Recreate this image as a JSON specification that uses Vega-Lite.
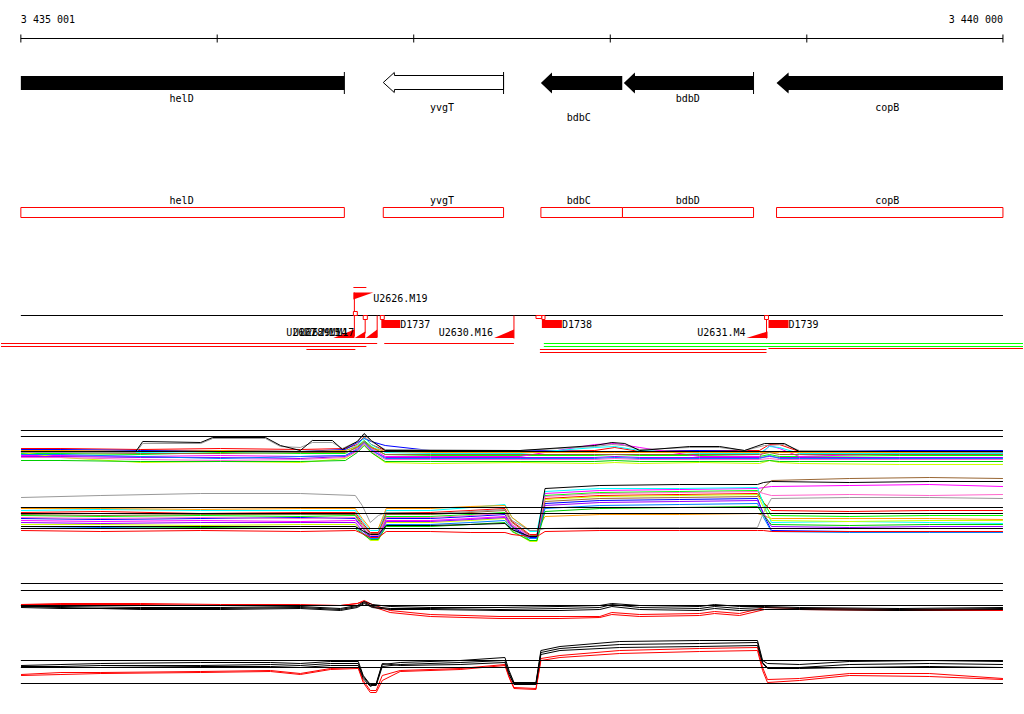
{
"$schema":"https://vega.github.io/schema/vega-lite/v6.json",
"width":1024,"height":714,"padding":0,
"autosize":{"type":"fit","contains":"padding"},
"background":"white",
"config":{"view":{"stroke":null},"text":{"font":"DejaVu Sans Mono","fontSize":10,"color":"#000000","baseline":"middle"}},
"datasets":{
"blackArrows":[
{"id":"helD","x":3435001,"y":75.5,"y2":89.5},{"id":"helD","x":3436647,"y":75.5,"y2":89.5},
{"id":"bdbC","x":3437647,"y":82.5,"y2":82.5},{"id":"bdbC","x":3437703,"y":72,"y2":93},{"id":"bdbC","x":3437704,"y":75.5,"y2":89.5},{"id":"bdbC","x":3438061,"y":75.5,"y2":89.5},
{"id":"bdbD","x":3438069,"y":82.5,"y2":82.5},{"id":"bdbD","x":3438125,"y":72,"y2":93},{"id":"bdbD","x":3438126,"y":75.5,"y2":89.5},{"id":"bdbD","x":3438729,"y":75.5,"y2":89.5},
{"id":"copB","x":3438846,"y":82.5,"y2":82.5},{"id":"copB","x":3438907,"y":72,"y2":93},{"id":"copB","x":3438908,"y":75.5,"y2":89.5},{"id":"copB","x":3439998,"y":75.5,"y2":89.5}
],
"whiteArrows":[
{"id":"yvgT","x":3436845,"y":82,"y2":82},{"id":"yvgT","x":3436901,"y":72,"y2":92},{"id":"yvgT","x":3436902,"y":75,"y2":89},{"id":"yvgT","x":3437457,"y":75,"y2":89}
],
"blackV":[
{"x":3435001,"y":34,"y2":42},{"x":3436000,"y":34,"y2":42},{"x":3437000,"y":34,"y2":42},{"x":3438000,"y":34,"y2":42},{"x":3439000,"y":34,"y2":42},{"x":3439998,"y":34,"y2":42},
{"x":3436647,"y":71.5,"y2":93.5},{"x":3437457,"y":71.5,"y2":93.5},{"x":3438729,"y":71.5,"y2":93.5}
],
"blackH":[
{"x":3435001,"x2":3439998,"y":38},{"x":3435001,"x2":3439998,"y":315}
],
"refs":[
{"x":3435001,"x2":3439998,"y":430},{"x":3435001,"x2":3439998,"y":436},{"x":3435001,"x2":3439998,"y":451},
{"x":3435001,"x2":3439998,"y":507},{"x":3435001,"x2":3439998,"y":513},{"x":3435001,"x2":3439998,"y":528},
{"x":3435001,"x2":3439998,"y":583},{"x":3435001,"x2":3439998,"y":590},{"x":3435001,"x2":3439998,"y":605},
{"x":3435001,"x2":3439998,"y":660},{"x":3435001,"x2":3439998,"y":667},{"x":3435001,"x2":3439998,"y":683}
],
"geneBoxes":[
{"x":3435001,"x2":3436647,"y":207,"y2":217},{"x":3436845,"x2":3437457,"y":207,"y2":217},{"x":3437647,"x2":3438062,"y":207,"y2":217},{"x":3438062,"x2":3438729,"y":207,"y2":217},{"x":3438846,"x2":3439998,"y":207,"y2":217}
],
"smallSquares":[
{"x":3436693,"x2":3436713,"y":311,"y2":315},{"x":3436743,"x2":3436764,"y":315,"y2":319},{"x":3436830,"x2":3436850,"y":315,"y2":319},{"x":3437622,"x2":3437652,"y":315,"y2":318},{"x":3437652,"x2":3437668,"y":315,"y2":319},{"x":3438785,"x2":3438805,"y":315,"y2":319}
],
"redBoxes":[
{"x":3436835,"x2":3436931,"y":319.5,"y2":327.5},{"x":3437652,"x2":3437754,"y":319.5,"y2":327.5},{"x":3438805,"x2":3438907,"y":319.5,"y2":327.5}
],
"redShapes":[
{"id":"flag","x":3436693,"y":292,"y2":299},{"id":"flag","x":3436794,"y":292,"y2":292},
{"id":"r1","x":3436591,"y":337.5,"y2":337.5},{"id":"r1","x":3436698,"y":329,"y2":337.5},
{"id":"r2","x":3436700,"y":337.5,"y2":337.5},{"id":"r2","x":3436753,"y":331,"y2":337.5},
{"id":"r3","x":3436756,"y":337.5,"y2":337.5},{"id":"r3","x":3436814,"y":329,"y2":337.5},
{"id":"r4","x":3437409,"y":337.5,"y2":337.5},{"id":"r4","x":3437510,"y":329,"y2":337.5},
{"id":"r5","x":3438693,"y":337.5,"y2":337.5},{"id":"r5","x":3438800,"y":331,"y2":337.5}
],
"redV":[
{"x":3436698,"y":292,"y2":336},{"x":3436753,"y":315,"y2":333},{"x":3436814,"y":315,"y2":337},{"x":3437510,"y":315,"y2":338},{"x":3438795,"y":315,"y2":338}
],
"redH":[
{"x":3436693,"x2":3436759,"y":287},{"x":3434900,"x2":3436814,"y":343},{"x":3434900,"x2":3436759,"y":346},{"x":3436454,"x2":3436703,"y":349},
{"x":3436850,"x2":3437510,"y":343},{"x":3437642,"x2":3438795,"y":349},{"x":3437642,"x2":3438795,"y":352},{"x":3438805,"x2":3440100,"y":348}
],
"greenH":[
{"x":3437662,"x2":3440100,"y":343},{"x":3437662,"x2":3440100,"y":346}
],
"labelsLeft":[
{"x":3435001,"y":19,"t":"3 435 001"},{"x":3436794,"y":298,"t":"U2626.M19"},{"x":3436931,"y":324,"t":"D1737"},{"x":3437754,"y":324,"t":"D1738"},{"x":3438907,"y":324,"t":"D1739"}
],
"labelsCenter":[
{"x":3435819,"y":98,"t":"helD"},{"x":3437144,"y":107,"t":"yvgT"},{"x":3437840,"y":117,"t":"bdbC"},{"x":3438394,"y":98,"t":"bdbD"},{"x":3439409,"y":107,"t":"copB"},
{"x":3435819,"y":200.5,"t":"helD"},{"x":3437144,"y":200.5,"t":"yvgT"},{"x":3437840,"y":200.5,"t":"bdbC"},{"x":3438394,"y":200.5,"t":"bdbD"},{"x":3439409,"y":200.5,"t":"copB"}
],
"labelsRight":[
{"x":3439998,"y":19,"t":"3 440 000"},{"x":3437403,"y":332.5,"t":"U2630.M16"},{"x":3438688,"y":332,"t":"U2631.M4"},
{"x":3436627,"y":332,"t":"U2627.M15"},{"x":3436662,"y":332,"t":"U2628.M14"},{"x":3436698,"y":332,"t":"U2629.M17"}
],
"lines":[
{"s":"S01","p":"A","x":3435002,"y":448},{"s":"S01","p":"A","x":3435205,"y":448},{"s":"S01","p":"A","x":3435611,"y":449},{"s":"S01","p":"A","x":3436017,"y":448},{"s":"S01","p":"A","x":3436423,"y":449},{"s":"S01","p":"A","x":3436652,"y":448},{"s":"S01","p":"A","x":3436713,"y":444},{"s":"S01","p":"A","x":3436748,"y":436},{"s":"S01","p":"A","x":3436784,"y":444},{"s":"S01","p":"A","x":3436855,"y":450},{"s":"S01","p":"A","x":3437084,"y":451},{"s":"S01","p":"A","x":3437541,"y":451},{"s":"S01","p":"A","x":3437921,"y":450},{"s":"S01","p":"A","x":3438023,"y":447},{"s":"S01","p":"A","x":3438150,"y":451},{"s":"S01","p":"A","x":3438455,"y":450},{"s":"S01","p":"A","x":3438759,"y":450},{"s":"S01","p":"A","x":3438810,"y":444},{"s":"S01","p":"A","x":3438861,"y":444},{"s":"S01","p":"A","x":3438962,"y":451},{"s":"S01","p":"A","x":3439470,"y":451},{"s":"S01","p":"A","x":3439998,"y":451},
{"s":"S02","p":"A","x":3435002,"y":449},{"s":"S02","p":"A","x":3435205,"y":449},{"s":"S02","p":"A","x":3435611,"y":450},{"s":"S02","p":"A","x":3436017,"y":450},{"s":"S02","p":"A","x":3436423,"y":451},{"s":"S02","p":"A","x":3436652,"y":449},{"s":"S02","p":"A","x":3436713,"y":442},{"s":"S02","p":"A","x":3436748,"y":438},{"s":"S02","p":"A","x":3436784,"y":441},{"s":"S02","p":"A","x":3436855,"y":445},{"s":"S02","p":"A","x":3437084,"y":450},{"s":"S02","p":"A","x":3437541,"y":450},{"s":"S02","p":"A","x":3437921,"y":451},{"s":"S02","p":"A","x":3438023,"y":451},{"s":"S02","p":"A","x":3438150,"y":451},{"s":"S02","p":"A","x":3438455,"y":450},{"s":"S02","p":"A","x":3438759,"y":451},{"s":"S02","p":"A","x":3438810,"y":451},{"s":"S02","p":"A","x":3438861,"y":451},{"s":"S02","p":"A","x":3438962,"y":451},{"s":"S02","p":"A","x":3439470,"y":450},{"s":"S02","p":"A","x":3439998,"y":450},
{"s":"S03","p":"A","x":3435002,"y":453},{"s":"S03","p":"A","x":3435205,"y":453},{"s":"S03","p":"A","x":3435611,"y":454},{"s":"S03","p":"A","x":3436017,"y":452},{"s":"S03","p":"A","x":3436423,"y":453},{"s":"S03","p":"A","x":3436652,"y":453},{"s":"S03","p":"A","x":3436713,"y":446},{"s":"S03","p":"A","x":3436748,"y":440},{"s":"S03","p":"A","x":3436784,"y":446},{"s":"S03","p":"A","x":3436855,"y":454},{"s":"S03","p":"A","x":3437084,"y":455},{"s":"S03","p":"A","x":3437541,"y":455},{"s":"S03","p":"A","x":3437921,"y":455},{"s":"S03","p":"A","x":3438023,"y":454},{"s":"S03","p":"A","x":3438150,"y":455},{"s":"S03","p":"A","x":3438455,"y":455},{"s":"S03","p":"A","x":3438759,"y":456},{"s":"S03","p":"A","x":3438810,"y":454},{"s":"S03","p":"A","x":3438861,"y":456},{"s":"S03","p":"A","x":3438962,"y":456},{"s":"S03","p":"A","x":3439470,"y":455},{"s":"S03","p":"A","x":3439998,"y":455},
{"s":"S04","p":"A","x":3435002,"y":455},{"s":"S04","p":"A","x":3435205,"y":455},{"s":"S04","p":"A","x":3435611,"y":456},{"s":"S04","p":"A","x":3436017,"y":455},{"s":"S04","p":"A","x":3436423,"y":456},{"s":"S04","p":"A","x":3436652,"y":455},{"s":"S04","p":"A","x":3436713,"y":448},{"s":"S04","p":"A","x":3436748,"y":441},{"s":"S04","p":"A","x":3436784,"y":448},{"s":"S04","p":"A","x":3436855,"y":456},{"s":"S04","p":"A","x":3437084,"y":456},{"s":"S04","p":"A","x":3437541,"y":456},{"s":"S04","p":"A","x":3437921,"y":444},{"s":"S04","p":"A","x":3438023,"y":443},{"s":"S04","p":"A","x":3438150,"y":447},{"s":"S04","p":"A","x":3438455,"y":456},{"s":"S04","p":"A","x":3438759,"y":456},{"s":"S04","p":"A","x":3438810,"y":445},{"s":"S04","p":"A","x":3438861,"y":448},{"s":"S04","p":"A","x":3438962,"y":456},{"s":"S04","p":"A","x":3439470,"y":453},{"s":"S04","p":"A","x":3439998,"y":453},
{"s":"S05","p":"A","x":3435002,"y":451},{"s":"S05","p":"A","x":3435205,"y":451},{"s":"S05","p":"A","x":3435611,"y":452},{"s":"S05","p":"A","x":3436017,"y":451},{"s":"S05","p":"A","x":3436423,"y":452},{"s":"S05","p":"A","x":3436652,"y":450},{"s":"S05","p":"A","x":3436713,"y":445},{"s":"S05","p":"A","x":3436748,"y":437},{"s":"S05","p":"A","x":3436784,"y":444},{"s":"S05","p":"A","x":3436855,"y":452},{"s":"S05","p":"A","x":3437084,"y":453},{"s":"S05","p":"A","x":3437541,"y":453},{"s":"S05","p":"A","x":3437921,"y":447},{"s":"S05","p":"A","x":3438023,"y":446},{"s":"S05","p":"A","x":3438150,"y":450},{"s":"S05","p":"A","x":3438455,"y":453},{"s":"S05","p":"A","x":3438759,"y":453},{"s":"S05","p":"A","x":3438810,"y":446},{"s":"S05","p":"A","x":3438861,"y":447},{"s":"S05","p":"A","x":3438962,"y":453},{"s":"S05","p":"A","x":3439470,"y":453},{"s":"S05","p":"A","x":3439998,"y":453},
{"s":"S06","p":"A","x":3435002,"y":450},{"s":"S06","p":"A","x":3435205,"y":450},{"s":"S06","p":"A","x":3435611,"y":451},{"s":"S06","p":"A","x":3436017,"y":450},{"s":"S06","p":"A","x":3436423,"y":451},{"s":"S06","p":"A","x":3436652,"y":450},{"s":"S06","p":"A","x":3436713,"y":446},{"s":"S06","p":"A","x":3436748,"y":442},{"s":"S06","p":"A","x":3436784,"y":447},{"s":"S06","p":"A","x":3436855,"y":451},{"s":"S06","p":"A","x":3437084,"y":452},{"s":"S06","p":"A","x":3437541,"y":452},{"s":"S06","p":"A","x":3437921,"y":452},{"s":"S06","p":"A","x":3438023,"y":452},{"s":"S06","p":"A","x":3438150,"y":452},{"s":"S06","p":"A","x":3438455,"y":452},{"s":"S06","p":"A","x":3438759,"y":452},{"s":"S06","p":"A","x":3438810,"y":452},{"s":"S06","p":"A","x":3438861,"y":452},{"s":"S06","p":"A","x":3438962,"y":452},{"s":"S06","p":"A","x":3439470,"y":452},{"s":"S06","p":"A","x":3439998,"y":452},
{"s":"S07","p":"A","x":3435002,"y":452},{"s":"S07","p":"A","x":3435205,"y":457},{"s":"S07","p":"A","x":3435611,"y":462},{"s":"S07","p":"A","x":3436017,"y":461},{"s":"S07","p":"A","x":3436423,"y":462},{"s":"S07","p":"A","x":3436652,"y":458},{"s":"S07","p":"A","x":3436713,"y":450},{"s":"S07","p":"A","x":3436748,"y":444},{"s":"S07","p":"A","x":3436784,"y":452},{"s":"S07","p":"A","x":3436855,"y":462},{"s":"S07","p":"A","x":3437084,"y":463},{"s":"S07","p":"A","x":3437541,"y":462},{"s":"S07","p":"A","x":3437921,"y":463},{"s":"S07","p":"A","x":3438023,"y":462},{"s":"S07","p":"A","x":3438150,"y":463},{"s":"S07","p":"A","x":3438455,"y":462},{"s":"S07","p":"A","x":3438759,"y":463},{"s":"S07","p":"A","x":3438810,"y":460},{"s":"S07","p":"A","x":3438861,"y":462},{"s":"S07","p":"A","x":3438962,"y":463},{"s":"S07","p":"A","x":3439470,"y":464},{"s":"S07","p":"A","x":3439998,"y":464},
{"s":"S08","p":"A","x":3435002,"y":456},{"s":"S08","p":"A","x":3435205,"y":456},{"s":"S08","p":"A","x":3435611,"y":457},{"s":"S08","p":"A","x":3436017,"y":457},{"s":"S08","p":"A","x":3436423,"y":458},{"s":"S08","p":"A","x":3436652,"y":456},{"s":"S08","p":"A","x":3436713,"y":450},{"s":"S08","p":"A","x":3436748,"y":443},{"s":"S08","p":"A","x":3436784,"y":450},{"s":"S08","p":"A","x":3436855,"y":457},{"s":"S08","p":"A","x":3437084,"y":457},{"s":"S08","p":"A","x":3437541,"y":457},{"s":"S08","p":"A","x":3437921,"y":457},{"s":"S08","p":"A","x":3438023,"y":456},{"s":"S08","p":"A","x":3438150,"y":457},{"s":"S08","p":"A","x":3438455,"y":457},{"s":"S08","p":"A","x":3438759,"y":457},{"s":"S08","p":"A","x":3438810,"y":456},{"s":"S08","p":"A","x":3438861,"y":457},{"s":"S08","p":"A","x":3438962,"y":457},{"s":"S08","p":"A","x":3439470,"y":457},{"s":"S08","p":"A","x":3439998,"y":457},
{"s":"S10","p":"A","x":3435002,"y":452},{"s":"S10","p":"A","x":3435205,"y":452},{"s":"S10","p":"A","x":3435611,"y":453},{"s":"S10","p":"A","x":3436017,"y":453},{"s":"S10","p":"A","x":3436423,"y":452},{"s":"S10","p":"A","x":3436652,"y":452},{"s":"S10","p":"A","x":3436713,"y":447},{"s":"S10","p":"A","x":3436748,"y":441},{"s":"S10","p":"A","x":3436784,"y":447},{"s":"S10","p":"A","x":3436855,"y":454},{"s":"S10","p":"A","x":3437084,"y":454},{"s":"S10","p":"A","x":3437541,"y":454},{"s":"S10","p":"A","x":3437921,"y":454},{"s":"S10","p":"A","x":3438023,"y":454},{"s":"S10","p":"A","x":3438150,"y":454},{"s":"S10","p":"A","x":3438455,"y":454},{"s":"S10","p":"A","x":3438759,"y":454},{"s":"S10","p":"A","x":3438810,"y":452},{"s":"S10","p":"A","x":3438861,"y":454},{"s":"S10","p":"A","x":3438962,"y":454},{"s":"S10","p":"A","x":3439470,"y":454},{"s":"S10","p":"A","x":3439998,"y":454},
{"s":"S11","p":"A","x":3435002,"y":454},{"s":"S11","p":"A","x":3435205,"y":454},{"s":"S11","p":"A","x":3435611,"y":456},{"s":"S11","p":"A","x":3436017,"y":458},{"s":"S11","p":"A","x":3436423,"y":456},{"s":"S11","p":"A","x":3436652,"y":455},{"s":"S11","p":"A","x":3436713,"y":449},{"s":"S11","p":"A","x":3436748,"y":442},{"s":"S11","p":"A","x":3436784,"y":449},{"s":"S11","p":"A","x":3436855,"y":458},{"s":"S11","p":"A","x":3437084,"y":458},{"s":"S11","p":"A","x":3437541,"y":458},{"s":"S11","p":"A","x":3437921,"y":458},{"s":"S11","p":"A","x":3438023,"y":457},{"s":"S11","p":"A","x":3438150,"y":458},{"s":"S11","p":"A","x":3438455,"y":458},{"s":"S11","p":"A","x":3438759,"y":458},{"s":"S11","p":"A","x":3438810,"y":455},{"s":"S11","p":"A","x":3438861,"y":458},{"s":"S11","p":"A","x":3438962,"y":458},{"s":"S11","p":"A","x":3439470,"y":458},{"s":"S11","p":"A","x":3439998,"y":458},
{"s":"S12","p":"A","x":3435002,"y":457},{"s":"S12","p":"A","x":3435205,"y":457},{"s":"S12","p":"A","x":3435611,"y":459},{"s":"S12","p":"A","x":3436017,"y":460},{"s":"S12","p":"A","x":3436423,"y":459},{"s":"S12","p":"A","x":3436652,"y":457},{"s":"S12","p":"A","x":3436713,"y":451},{"s":"S12","p":"A","x":3436748,"y":443},{"s":"S12","p":"A","x":3436784,"y":451},{"s":"S12","p":"A","x":3436855,"y":459},{"s":"S12","p":"A","x":3437084,"y":459},{"s":"S12","p":"A","x":3437541,"y":459},{"s":"S12","p":"A","x":3437921,"y":459},{"s":"S12","p":"A","x":3438023,"y":458},{"s":"S12","p":"A","x":3438150,"y":459},{"s":"S12","p":"A","x":3438455,"y":459},{"s":"S12","p":"A","x":3438759,"y":459},{"s":"S12","p":"A","x":3438810,"y":458},{"s":"S12","p":"A","x":3438861,"y":459},{"s":"S12","p":"A","x":3438962,"y":459},{"s":"S12","p":"A","x":3439470,"y":459},{"s":"S12","p":"A","x":3439998,"y":459},
{"s":"S13","p":"A","x":3435002,"y":460},{"s":"S13","p":"A","x":3435205,"y":460},{"s":"S13","p":"A","x":3435611,"y":461},{"s":"S13","p":"A","x":3436017,"y":461},{"s":"S13","p":"A","x":3436423,"y":461},{"s":"S13","p":"A","x":3436652,"y":460},{"s":"S13","p":"A","x":3436713,"y":452},{"s":"S13","p":"A","x":3436748,"y":445},{"s":"S13","p":"A","x":3436784,"y":452},{"s":"S13","p":"A","x":3436855,"y":461},{"s":"S13","p":"A","x":3437084,"y":461},{"s":"S13","p":"A","x":3437541,"y":461},{"s":"S13","p":"A","x":3437921,"y":461},{"s":"S13","p":"A","x":3438023,"y":460},{"s":"S13","p":"A","x":3438150,"y":461},{"s":"S13","p":"A","x":3438455,"y":461},{"s":"S13","p":"A","x":3438759,"y":461},{"s":"S13","p":"A","x":3438810,"y":460},{"s":"S13","p":"A","x":3438861,"y":461},{"s":"S13","p":"A","x":3438962,"y":461},{"s":"S13","p":"A","x":3439470,"y":461},{"s":"S13","p":"A","x":3439998,"y":461},
{"s":"S09","p":"A","x":3435002,"y":452},{"s":"S09","p":"A","x":3435586,"y":452},{"s":"S09","p":"A","x":3435621,"y":443},{"s":"S09","p":"A","x":3435916,"y":443},{"s":"S09","p":"A","x":3435977,"y":438},{"s":"S09","p":"A","x":3436246,"y":438},{"s":"S09","p":"A","x":3436322,"y":446},{"s":"S09","p":"A","x":3436423,"y":447},{"s":"S09","p":"A","x":3436484,"y":442},{"s":"S09","p":"A","x":3436586,"y":442},{"s":"S09","p":"A","x":3436637,"y":448},{"s":"S09","p":"A","x":3436713,"y":441},{"s":"S09","p":"A","x":3436748,"y":434},{"s":"S09","p":"A","x":3436784,"y":441},{"s":"S09","p":"A","x":3436855,"y":449},{"s":"S09","p":"A","x":3437541,"y":450},{"s":"S09","p":"A","x":3437921,"y":446},{"s":"S09","p":"A","x":3438008,"y":444},{"s":"S09","p":"A","x":3438074,"y":445},{"s":"S09","p":"A","x":3438150,"y":449},{"s":"S09","p":"A","x":3438404,"y":447},{"s":"S09","p":"A","x":3438556,"y":447},{"s":"S09","p":"A","x":3438683,"y":450},{"s":"S09","p":"A","x":3438785,"y":445},{"s":"S09","p":"A","x":3438886,"y":444},{"s":"S09","p":"A","x":3438962,"y":450},{"s":"S09","p":"A","x":3439998,"y":452},
{"s":"S14","p":"A","x":3435002,"y":451},{"s":"S14","p":"A","x":3435586,"y":451},{"s":"S14","p":"A","x":3435621,"y":441},{"s":"S14","p":"A","x":3435916,"y":442},{"s":"S14","p":"A","x":3435977,"y":437},{"s":"S14","p":"A","x":3436246,"y":437},{"s":"S14","p":"A","x":3436322,"y":445},{"s":"S14","p":"A","x":3436423,"y":450},{"s":"S14","p":"A","x":3436484,"y":440},{"s":"S14","p":"A","x":3436586,"y":440},{"s":"S14","p":"A","x":3436637,"y":449},{"s":"S14","p":"A","x":3436713,"y":441},{"s":"S14","p":"A","x":3436748,"y":433},{"s":"S14","p":"A","x":3436784,"y":440},{"s":"S14","p":"A","x":3436855,"y":450},{"s":"S14","p":"A","x":3437541,"y":450},{"s":"S14","p":"A","x":3437921,"y":445},{"s":"S14","p":"A","x":3438008,"y":442},{"s":"S14","p":"A","x":3438074,"y":443},{"s":"S14","p":"A","x":3438150,"y":450},{"s":"S14","p":"A","x":3438404,"y":446},{"s":"S14","p":"A","x":3438556,"y":446},{"s":"S14","p":"A","x":3438683,"y":450},{"s":"S14","p":"A","x":3438785,"y":443},{"s":"S14","p":"A","x":3438886,"y":443},{"s":"S14","p":"A","x":3438962,"y":451},{"s":"S14","p":"A","x":3439998,"y":451},

{"s":"S01","p":"B","x":3435002,"y":512},{"s":"S01","p":"B","x":3435408,"y":511},{"s":"S01","p":"B","x":3435916,"y":513},{"s":"S01","p":"B","x":3436423,"y":512},{"s":"S01","p":"B","x":3436703,"y":512},{"s":"S01","p":"B","x":3436738,"y":522},{"s":"S01","p":"B","x":3436779,"y":532},{"s":"S01","p":"B","x":3436820,"y":532},{"s":"S01","p":"B","x":3436860,"y":512},{"s":"S01","p":"B","x":3437084,"y":512},{"s":"S01","p":"B","x":3437287,"y":510},{"s":"S01","p":"B","x":3437464,"y":508},{"s":"S01","p":"B","x":3437500,"y":521},{"s":"S01","p":"B","x":3437591,"y":534},{"s":"S01","p":"B","x":3437627,"y":534},{"s":"S01","p":"B","x":3437668,"y":498},{"s":"S01","p":"B","x":3437947,"y":495},{"s":"S01","p":"B","x":3438353,"y":494},{"s":"S01","p":"B","x":3438749,"y":493},{"s":"S01","p":"B","x":3438780,"y":502},{"s":"S01","p":"B","x":3438820,"y":510},{"s":"S01","p":"B","x":3439216,"y":511},{"s":"S01","p":"B","x":3439623,"y":510},{"s":"S01","p":"B","x":3439998,"y":510},
{"s":"S02","p":"B","x":3435002,"y":518},{"s":"S02","p":"B","x":3435408,"y":519},{"s":"S02","p":"B","x":3435916,"y":518},{"s":"S02","p":"B","x":3436423,"y":517},{"s":"S02","p":"B","x":3436703,"y":518},{"s":"S02","p":"B","x":3436738,"y":527},{"s":"S02","p":"B","x":3436779,"y":536},{"s":"S02","p":"B","x":3436820,"y":536},{"s":"S02","p":"B","x":3436860,"y":518},{"s":"S02","p":"B","x":3437084,"y":518},{"s":"S02","p":"B","x":3437287,"y":516},{"s":"S02","p":"B","x":3437464,"y":514},{"s":"S02","p":"B","x":3437500,"y":526},{"s":"S02","p":"B","x":3437591,"y":537},{"s":"S02","p":"B","x":3437627,"y":537},{"s":"S02","p":"B","x":3437668,"y":503},{"s":"S02","p":"B","x":3437947,"y":500},{"s":"S02","p":"B","x":3438353,"y":499},{"s":"S02","p":"B","x":3438749,"y":498},{"s":"S02","p":"B","x":3438780,"y":514},{"s":"S02","p":"B","x":3438820,"y":530},{"s":"S02","p":"B","x":3439216,"y":531},{"s":"S02","p":"B","x":3439623,"y":531},{"s":"S02","p":"B","x":3439998,"y":532},
{"s":"S03","p":"B","x":3435002,"y":515},{"s":"S03","p":"B","x":3435408,"y":516},{"s":"S03","p":"B","x":3435916,"y":515},{"s":"S03","p":"B","x":3436423,"y":516},{"s":"S03","p":"B","x":3436703,"y":515},{"s":"S03","p":"B","x":3436738,"y":526},{"s":"S03","p":"B","x":3436779,"y":538},{"s":"S03","p":"B","x":3436820,"y":538},{"s":"S03","p":"B","x":3436860,"y":516},{"s":"S03","p":"B","x":3437084,"y":516},{"s":"S03","p":"B","x":3437287,"y":514},{"s":"S03","p":"B","x":3437464,"y":512},{"s":"S03","p":"B","x":3437500,"y":526},{"s":"S03","p":"B","x":3437591,"y":540},{"s":"S03","p":"B","x":3437627,"y":540},{"s":"S03","p":"B","x":3437668,"y":495},{"s":"S03","p":"B","x":3437947,"y":492},{"s":"S03","p":"B","x":3438353,"y":491},{"s":"S03","p":"B","x":3438749,"y":490},{"s":"S03","p":"B","x":3438780,"y":502},{"s":"S03","p":"B","x":3438820,"y":515},{"s":"S03","p":"B","x":3439216,"y":516},{"s":"S03","p":"B","x":3439623,"y":515},{"s":"S03","p":"B","x":3439998,"y":515},
{"s":"S04","p":"B","x":3435002,"y":520},{"s":"S04","p":"B","x":3435408,"y":521},{"s":"S04","p":"B","x":3435916,"y":520},{"s":"S04","p":"B","x":3436423,"y":521},{"s":"S04","p":"B","x":3436703,"y":520},{"s":"S04","p":"B","x":3436738,"y":527},{"s":"S04","p":"B","x":3436779,"y":534},{"s":"S04","p":"B","x":3436820,"y":534},{"s":"S04","p":"B","x":3436860,"y":520},{"s":"S04","p":"B","x":3437084,"y":520},{"s":"S04","p":"B","x":3437287,"y":518},{"s":"S04","p":"B","x":3437464,"y":516},{"s":"S04","p":"B","x":3437500,"y":525},{"s":"S04","p":"B","x":3437591,"y":535},{"s":"S04","p":"B","x":3437627,"y":535},{"s":"S04","p":"B","x":3437668,"y":493},{"s":"S04","p":"B","x":3437947,"y":490},{"s":"S04","p":"B","x":3438353,"y":489},{"s":"S04","p":"B","x":3438749,"y":488},{"s":"S04","p":"B","x":3438780,"y":487},{"s":"S04","p":"B","x":3438820,"y":486},{"s":"S04","p":"B","x":3439216,"y":485},{"s":"S04","p":"B","x":3439623,"y":484},{"s":"S04","p":"B","x":3439998,"y":486},
{"s":"S05","p":"B","x":3435002,"y":510},{"s":"S05","p":"B","x":3435408,"y":509},{"s":"S05","p":"B","x":3435916,"y":510},{"s":"S05","p":"B","x":3436423,"y":510},{"s":"S05","p":"B","x":3436703,"y":510},{"s":"S05","p":"B","x":3436738,"y":520},{"s":"S05","p":"B","x":3436779,"y":530},{"s":"S05","p":"B","x":3436820,"y":530},{"s":"S05","p":"B","x":3436860,"y":510},{"s":"S05","p":"B","x":3437084,"y":510},{"s":"S05","p":"B","x":3437287,"y":507},{"s":"S05","p":"B","x":3437464,"y":504},{"s":"S05","p":"B","x":3437500,"y":517},{"s":"S05","p":"B","x":3437591,"y":531},{"s":"S05","p":"B","x":3437627,"y":531},{"s":"S05","p":"B","x":3437668,"y":491},{"s":"S05","p":"B","x":3437947,"y":488},{"s":"S05","p":"B","x":3438353,"y":488},{"s":"S05","p":"B","x":3438749,"y":487},{"s":"S05","p":"B","x":3438780,"y":504},{"s":"S05","p":"B","x":3438820,"y":522},{"s":"S05","p":"B","x":3439216,"y":521},{"s":"S05","p":"B","x":3439623,"y":522},{"s":"S05","p":"B","x":3439998,"y":523},
{"s":"S06","p":"B","x":3435002,"y":508},{"s":"S06","p":"B","x":3435408,"y":508},{"s":"S06","p":"B","x":3435916,"y":509},{"s":"S06","p":"B","x":3436423,"y":508},{"s":"S06","p":"B","x":3436703,"y":508},{"s":"S06","p":"B","x":3436738,"y":518},{"s":"S06","p":"B","x":3436779,"y":528},{"s":"S06","p":"B","x":3436820,"y":528},{"s":"S06","p":"B","x":3436860,"y":508},{"s":"S06","p":"B","x":3437084,"y":508},{"s":"S06","p":"B","x":3437287,"y":506},{"s":"S06","p":"B","x":3437464,"y":505},{"s":"S06","p":"B","x":3437500,"y":517},{"s":"S06","p":"B","x":3437591,"y":530},{"s":"S06","p":"B","x":3437627,"y":530},{"s":"S06","p":"B","x":3437668,"y":516},{"s":"S06","p":"B","x":3437947,"y":514},{"s":"S06","p":"B","x":3438353,"y":514},{"s":"S06","p":"B","x":3438749,"y":513},{"s":"S06","p":"B","x":3438780,"y":515},{"s":"S06","p":"B","x":3438820,"y":518},{"s":"S06","p":"B","x":3439216,"y":518},{"s":"S06","p":"B","x":3439623,"y":518},{"s":"S06","p":"B","x":3439998,"y":519},
{"s":"S07","p":"B","x":3435002,"y":524},{"s":"S07","p":"B","x":3435408,"y":524},{"s":"S07","p":"B","x":3435916,"y":525},{"s":"S07","p":"B","x":3436423,"y":524},{"s":"S07","p":"B","x":3436703,"y":524},{"s":"S07","p":"B","x":3436738,"y":532},{"s":"S07","p":"B","x":3436779,"y":540},{"s":"S07","p":"B","x":3436820,"y":540},{"s":"S07","p":"B","x":3436860,"y":522},{"s":"S07","p":"B","x":3437084,"y":522},{"s":"S07","p":"B","x":3437287,"y":520},{"s":"S07","p":"B","x":3437464,"y":518},{"s":"S07","p":"B","x":3437500,"y":530},{"s":"S07","p":"B","x":3437591,"y":541},{"s":"S07","p":"B","x":3437627,"y":541},{"s":"S07","p":"B","x":3437668,"y":499},{"s":"S07","p":"B","x":3437947,"y":496},{"s":"S07","p":"B","x":3438353,"y":495},{"s":"S07","p":"B","x":3438749,"y":494},{"s":"S07","p":"B","x":3438780,"y":507},{"s":"S07","p":"B","x":3438820,"y":520},{"s":"S07","p":"B","x":3439216,"y":521},{"s":"S07","p":"B","x":3439623,"y":520},{"s":"S07","p":"B","x":3439998,"y":520},
{"s":"S08","p":"B","x":3435002,"y":522},{"s":"S08","p":"B","x":3435408,"y":523},{"s":"S08","p":"B","x":3435916,"y":522},{"s":"S08","p":"B","x":3436423,"y":522},{"s":"S08","p":"B","x":3436703,"y":522},{"s":"S08","p":"B","x":3436738,"y":530},{"s":"S08","p":"B","x":3436779,"y":537},{"s":"S08","p":"B","x":3436820,"y":537},{"s":"S08","p":"B","x":3436860,"y":521},{"s":"S08","p":"B","x":3437084,"y":521},{"s":"S08","p":"B","x":3437287,"y":519},{"s":"S08","p":"B","x":3437464,"y":517},{"s":"S08","p":"B","x":3437500,"y":527},{"s":"S08","p":"B","x":3437591,"y":538},{"s":"S08","p":"B","x":3437627,"y":538},{"s":"S08","p":"B","x":3437668,"y":505},{"s":"S08","p":"B","x":3437947,"y":502},{"s":"S08","p":"B","x":3438353,"y":501},{"s":"S08","p":"B","x":3438749,"y":500},{"s":"S08","p":"B","x":3438780,"y":513},{"s":"S08","p":"B","x":3438820,"y":526},{"s":"S08","p":"B","x":3439216,"y":527},{"s":"S08","p":"B","x":3439623,"y":526},{"s":"S08","p":"B","x":3439998,"y":526},
{"s":"S10","p":"B","x":3435002,"y":514},{"s":"S10","p":"B","x":3435408,"y":515},{"s":"S10","p":"B","x":3435916,"y":514},{"s":"S10","p":"B","x":3436423,"y":514},{"s":"S10","p":"B","x":3436703,"y":514},{"s":"S10","p":"B","x":3436738,"y":524},{"s":"S10","p":"B","x":3436779,"y":533},{"s":"S10","p":"B","x":3436820,"y":533},{"s":"S10","p":"B","x":3436860,"y":514},{"s":"S10","p":"B","x":3437084,"y":514},{"s":"S10","p":"B","x":3437287,"y":512},{"s":"S10","p":"B","x":3437464,"y":510},{"s":"S10","p":"B","x":3437500,"y":522},{"s":"S10","p":"B","x":3437591,"y":535},{"s":"S10","p":"B","x":3437627,"y":535},{"s":"S10","p":"B","x":3437668,"y":501},{"s":"S10","p":"B","x":3437947,"y":498},{"s":"S10","p":"B","x":3438353,"y":497},{"s":"S10","p":"B","x":3438749,"y":496},{"s":"S10","p":"B","x":3438780,"y":487},{"s":"S10","p":"B","x":3438820,"y":480},{"s":"S10","p":"B","x":3439216,"y":478},{"s":"S10","p":"B","x":3439623,"y":477},{"s":"S10","p":"B","x":3439998,"y":478},
{"s":"S11","p":"B","x":3435002,"y":526},{"s":"S11","p":"B","x":3435408,"y":527},{"s":"S11","p":"B","x":3435916,"y":526},{"s":"S11","p":"B","x":3436423,"y":526},{"s":"S11","p":"B","x":3436703,"y":526},{"s":"S11","p":"B","x":3436738,"y":532},{"s":"S11","p":"B","x":3436779,"y":538},{"s":"S11","p":"B","x":3436820,"y":538},{"s":"S11","p":"B","x":3436860,"y":524},{"s":"S11","p":"B","x":3437084,"y":524},{"s":"S11","p":"B","x":3437287,"y":522},{"s":"S11","p":"B","x":3437464,"y":520},{"s":"S11","p":"B","x":3437500,"y":529},{"s":"S11","p":"B","x":3437591,"y":538},{"s":"S11","p":"B","x":3437627,"y":538},{"s":"S11","p":"B","x":3437668,"y":508},{"s":"S11","p":"B","x":3437947,"y":505},{"s":"S11","p":"B","x":3438353,"y":504},{"s":"S11","p":"B","x":3438749,"y":503},{"s":"S11","p":"B","x":3438780,"y":517},{"s":"S11","p":"B","x":3438820,"y":531},{"s":"S11","p":"B","x":3439216,"y":532},{"s":"S11","p":"B","x":3439623,"y":532},{"s":"S11","p":"B","x":3439998,"y":532},
{"s":"S12","p":"B","x":3435002,"y":517},{"s":"S12","p":"B","x":3435408,"y":518},{"s":"S12","p":"B","x":3435916,"y":517},{"s":"S12","p":"B","x":3436423,"y":518},{"s":"S12","p":"B","x":3436703,"y":517},{"s":"S12","p":"B","x":3436738,"y":526},{"s":"S12","p":"B","x":3436779,"y":535},{"s":"S12","p":"B","x":3436820,"y":535},{"s":"S12","p":"B","x":3436860,"y":517},{"s":"S12","p":"B","x":3437084,"y":517},{"s":"S12","p":"B","x":3437287,"y":515},{"s":"S12","p":"B","x":3437464,"y":513},{"s":"S12","p":"B","x":3437500,"y":524},{"s":"S12","p":"B","x":3437591,"y":536},{"s":"S12","p":"B","x":3437627,"y":536},{"s":"S12","p":"B","x":3437668,"y":496},{"s":"S12","p":"B","x":3437947,"y":493},{"s":"S12","p":"B","x":3438353,"y":492},{"s":"S12","p":"B","x":3438749,"y":491},{"s":"S12","p":"B","x":3438780,"y":493},{"s":"S12","p":"B","x":3438820,"y":495},{"s":"S12","p":"B","x":3439216,"y":494},{"s":"S12","p":"B","x":3439623,"y":495},{"s":"S12","p":"B","x":3439998,"y":494},
{"s":"S13","p":"B","x":3435002,"y":528},{"s":"S13","p":"B","x":3435408,"y":528},{"s":"S13","p":"B","x":3435916,"y":527},{"s":"S13","p":"B","x":3436423,"y":528},{"s":"S13","p":"B","x":3436703,"y":528},{"s":"S13","p":"B","x":3436738,"y":533},{"s":"S13","p":"B","x":3436779,"y":539},{"s":"S13","p":"B","x":3436820,"y":539},{"s":"S13","p":"B","x":3436860,"y":526},{"s":"S13","p":"B","x":3437084,"y":526},{"s":"S13","p":"B","x":3437287,"y":524},{"s":"S13","p":"B","x":3437464,"y":522},{"s":"S13","p":"B","x":3437500,"y":531},{"s":"S13","p":"B","x":3437591,"y":540},{"s":"S13","p":"B","x":3437627,"y":540},{"s":"S13","p":"B","x":3437668,"y":511},{"s":"S13","p":"B","x":3437947,"y":508},{"s":"S13","p":"B","x":3438353,"y":507},{"s":"S13","p":"B","x":3438749,"y":506},{"s":"S13","p":"B","x":3438780,"y":515},{"s":"S13","p":"B","x":3438820,"y":524},{"s":"S13","p":"B","x":3439216,"y":525},{"s":"S13","p":"B","x":3439623,"y":524},{"s":"S13","p":"B","x":3439998,"y":524},
{"s":"S15","p":"B","x":3435002,"y":530},{"s":"S15","p":"B","x":3435408,"y":531},{"s":"S15","p":"B","x":3435916,"y":530},{"s":"S15","p":"B","x":3436423,"y":531},{"s":"S15","p":"B","x":3436703,"y":530},{"s":"S15","p":"B","x":3436738,"y":533},{"s":"S15","p":"B","x":3436779,"y":537},{"s":"S15","p":"B","x":3436820,"y":537},{"s":"S15","p":"B","x":3436860,"y":531},{"s":"S15","p":"B","x":3437084,"y":531},{"s":"S15","p":"B","x":3437287,"y":532},{"s":"S15","p":"B","x":3437464,"y":532},{"s":"S15","p":"B","x":3437500,"y":534},{"s":"S15","p":"B","x":3437591,"y":536},{"s":"S15","p":"B","x":3437627,"y":536},{"s":"S15","p":"B","x":3437668,"y":531},{"s":"S15","p":"B","x":3437947,"y":530},{"s":"S15","p":"B","x":3438353,"y":530},{"s":"S15","p":"B","x":3438749,"y":530},{"s":"S15","p":"B","x":3438780,"y":530},{"s":"S15","p":"B","x":3438820,"y":531},{"s":"S15","p":"B","x":3439216,"y":531},{"s":"S15","p":"B","x":3439623,"y":531},{"s":"S15","p":"B","x":3439998,"y":531},
{"s":"S09","p":"B","x":3435002,"y":497},{"s":"S09","p":"B","x":3435408,"y":495},{"s":"S09","p":"B","x":3435916,"y":493},{"s":"S09","p":"B","x":3436423,"y":493},{"s":"S09","p":"B","x":3436703,"y":495},{"s":"S09","p":"B","x":3436738,"y":505},{"s":"S09","p":"B","x":3436779,"y":522},{"s":"S09","p":"B","x":3436820,"y":515},{"s":"S09","p":"B","x":3436860,"y":512},{"s":"S09","p":"B","x":3437084,"y":513},{"s":"S09","p":"B","x":3437287,"y":511},{"s":"S09","p":"B","x":3437464,"y":509},{"s":"S09","p":"B","x":3437500,"y":520},{"s":"S09","p":"B","x":3437591,"y":530},{"s":"S09","p":"B","x":3437627,"y":530},{"s":"S09","p":"B","x":3437668,"y":528},{"s":"S09","p":"B","x":3437947,"y":527},{"s":"S09","p":"B","x":3438353,"y":527},{"s":"S09","p":"B","x":3438749,"y":527},{"s":"S09","p":"B","x":3438780,"y":512},{"s":"S09","p":"B","x":3438820,"y":498},{"s":"S09","p":"B","x":3439216,"y":497},{"s":"S09","p":"B","x":3439623,"y":497},{"s":"S09","p":"B","x":3439998,"y":498},
{"s":"S14","p":"B","x":3435002,"y":526},{"s":"S14","p":"B","x":3435408,"y":526},{"s":"S14","p":"B","x":3435916,"y":526},{"s":"S14","p":"B","x":3436423,"y":526},{"s":"S14","p":"B","x":3436703,"y":526},{"s":"S14","p":"B","x":3436738,"y":530},{"s":"S14","p":"B","x":3436779,"y":534},{"s":"S14","p":"B","x":3436820,"y":534},{"s":"S14","p":"B","x":3436860,"y":525},{"s":"S14","p":"B","x":3437084,"y":525},{"s":"S14","p":"B","x":3437287,"y":524},{"s":"S14","p":"B","x":3437464,"y":523},{"s":"S14","p":"B","x":3437500,"y":529},{"s":"S14","p":"B","x":3437591,"y":536},{"s":"S14","p":"B","x":3437627,"y":536},{"s":"S14","p":"B","x":3437668,"y":488},{"s":"S14","p":"B","x":3437947,"y":485},{"s":"S14","p":"B","x":3438353,"y":484},{"s":"S14","p":"B","x":3438749,"y":484},{"s":"S14","p":"B","x":3438780,"y":482},{"s":"S14","p":"B","x":3438820,"y":481},{"s":"S14","p":"B","x":3439216,"y":482},{"s":"S14","p":"B","x":3439623,"y":481},{"s":"S14","p":"B","x":3439998,"y":481},

{"s":"R1","p":"C","x":3435002,"y":604},{"s":"R1","p":"C","x":3435205,"y":603},{"s":"R1","p":"C","x":3435611,"y":603},{"s":"R1","p":"C","x":3436017,"y":604},{"s":"R1","p":"C","x":3436423,"y":604},{"s":"R1","p":"C","x":3436627,"y":605},{"s":"R1","p":"C","x":3436713,"y":603},{"s":"R1","p":"C","x":3436748,"y":600},{"s":"R1","p":"C","x":3436789,"y":604},{"s":"R1","p":"C","x":3436880,"y":610},{"s":"R1","p":"C","x":3437084,"y":614},{"s":"R1","p":"C","x":3437439,"y":616},{"s":"R1","p":"C","x":3437744,"y":616},{"s":"R1","p":"C","x":3437947,"y":616},{"s":"R1","p":"C","x":3438008,"y":612},{"s":"R1","p":"C","x":3438150,"y":614},{"s":"R1","p":"C","x":3438455,"y":613},{"s":"R1","p":"C","x":3438531,"y":611},{"s":"R1","p":"C","x":3438658,"y":613},{"s":"R1","p":"C","x":3438785,"y":607},{"s":"R1","p":"C","x":3438962,"y":608},{"s":"R1","p":"C","x":3439470,"y":609},{"s":"R1","p":"C","x":3439998,"y":609},
{"s":"R2","p":"C","x":3435002,"y":604},{"s":"R2","p":"C","x":3435205,"y":604},{"s":"R2","p":"C","x":3435611,"y":604},{"s":"R2","p":"C","x":3436017,"y":605},{"s":"R2","p":"C","x":3436423,"y":605},{"s":"R2","p":"C","x":3436627,"y":605},{"s":"R2","p":"C","x":3436713,"y":603},{"s":"R2","p":"C","x":3436748,"y":601},{"s":"R2","p":"C","x":3436789,"y":606},{"s":"R2","p":"C","x":3436880,"y":612},{"s":"R2","p":"C","x":3437084,"y":616},{"s":"R2","p":"C","x":3437439,"y":618},{"s":"R2","p":"C","x":3437744,"y":618},{"s":"R2","p":"C","x":3437947,"y":617},{"s":"R2","p":"C","x":3438008,"y":614},{"s":"R2","p":"C","x":3438150,"y":616},{"s":"R2","p":"C","x":3438455,"y":615},{"s":"R2","p":"C","x":3438531,"y":613},{"s":"R2","p":"C","x":3438658,"y":615},{"s":"R2","p":"C","x":3438785,"y":609},{"s":"R2","p":"C","x":3438962,"y":609},{"s":"R2","p":"C","x":3439470,"y":610},{"s":"R2","p":"C","x":3439998,"y":610},
{"s":"K1","p":"C","x":3435002,"y":606},{"s":"K1","p":"C","x":3435205,"y":606},{"s":"K1","p":"C","x":3435611,"y":607},{"s":"K1","p":"C","x":3436017,"y":607},{"s":"K1","p":"C","x":3436423,"y":606},{"s":"K1","p":"C","x":3436627,"y":608},{"s":"K1","p":"C","x":3436713,"y":605},{"s":"K1","p":"C","x":3436748,"y":601},{"s":"K1","p":"C","x":3436789,"y":604},{"s":"K1","p":"C","x":3436880,"y":606},{"s":"K1","p":"C","x":3437084,"y":607},{"s":"K1","p":"C","x":3437439,"y":607},{"s":"K1","p":"C","x":3437744,"y":606},{"s":"K1","p":"C","x":3437947,"y":605},{"s":"K1","p":"C","x":3438008,"y":603},{"s":"K1","p":"C","x":3438150,"y":605},{"s":"K1","p":"C","x":3438455,"y":606},{"s":"K1","p":"C","x":3438531,"y":604},{"s":"K1","p":"C","x":3438658,"y":606},{"s":"K1","p":"C","x":3438785,"y":606},{"s":"K1","p":"C","x":3438962,"y":607},{"s":"K1","p":"C","x":3439470,"y":608},{"s":"K1","p":"C","x":3439998,"y":607},
{"s":"K2","p":"C","x":3435002,"y":607},{"s":"K2","p":"C","x":3435205,"y":608},{"s":"K2","p":"C","x":3435611,"y":608},{"s":"K2","p":"C","x":3436017,"y":608},{"s":"K2","p":"C","x":3436423,"y":607},{"s":"K2","p":"C","x":3436627,"y":609},{"s":"K2","p":"C","x":3436713,"y":606},{"s":"K2","p":"C","x":3436748,"y":602},{"s":"K2","p":"C","x":3436789,"y":606},{"s":"K2","p":"C","x":3436880,"y":608},{"s":"K2","p":"C","x":3437084,"y":608},{"s":"K2","p":"C","x":3437439,"y":609},{"s":"K2","p":"C","x":3437744,"y":608},{"s":"K2","p":"C","x":3437947,"y":607},{"s":"K2","p":"C","x":3438008,"y":604},{"s":"K2","p":"C","x":3438150,"y":607},{"s":"K2","p":"C","x":3438455,"y":608},{"s":"K2","p":"C","x":3438531,"y":606},{"s":"K2","p":"C","x":3438658,"y":608},{"s":"K2","p":"C","x":3438785,"y":607},{"s":"K2","p":"C","x":3438962,"y":608},{"s":"K2","p":"C","x":3439470,"y":609},{"s":"K2","p":"C","x":3439998,"y":608},
{"s":"K3","p":"C","x":3435002,"y":606},{"s":"K3","p":"C","x":3435205,"y":607},{"s":"K3","p":"C","x":3435611,"y":609},{"s":"K3","p":"C","x":3436017,"y":609},{"s":"K3","p":"C","x":3436423,"y":608},{"s":"K3","p":"C","x":3436627,"y":610},{"s":"K3","p":"C","x":3436713,"y":607},{"s":"K3","p":"C","x":3436748,"y":603},{"s":"K3","p":"C","x":3436789,"y":607},{"s":"K3","p":"C","x":3436880,"y":609},{"s":"K3","p":"C","x":3437084,"y":609},{"s":"K3","p":"C","x":3437439,"y":610},{"s":"K3","p":"C","x":3437744,"y":610},{"s":"K3","p":"C","x":3437947,"y":609},{"s":"K3","p":"C","x":3438008,"y":606},{"s":"K3","p":"C","x":3438150,"y":609},{"s":"K3","p":"C","x":3438455,"y":610},{"s":"K3","p":"C","x":3438531,"y":608},{"s":"K3","p":"C","x":3438658,"y":610},{"s":"K3","p":"C","x":3438785,"y":609},{"s":"K3","p":"C","x":3438962,"y":609},{"s":"K3","p":"C","x":3439470,"y":610},{"s":"K3","p":"C","x":3439998,"y":609},

{"s":"R1","p":"D","x":3435002,"y":674},{"s":"R1","p":"D","x":3435205,"y":672},{"s":"R1","p":"D","x":3435408,"y":672},{"s":"R1","p":"D","x":3435916,"y":671},{"s":"R1","p":"D","x":3436271,"y":670},{"s":"R1","p":"D","x":3436423,"y":673},{"s":"R1","p":"D","x":3436576,"y":668},{"s":"R1","p":"D","x":3436718,"y":667},{"s":"R1","p":"D","x":3436743,"y":680},{"s":"R1","p":"D","x":3436779,"y":690},{"s":"R1","p":"D","x":3436809,"y":690},{"s":"R1","p":"D","x":3436840,"y":675},{"s":"R1","p":"D","x":3436931,"y":670},{"s":"R1","p":"D","x":3437236,"y":668},{"s":"R1","p":"D","x":3437464,"y":664},{"s":"R1","p":"D","x":3437485,"y":676},{"s":"R1","p":"D","x":3437510,"y":687},{"s":"R1","p":"D","x":3437622,"y":688},{"s":"R1","p":"D","x":3437647,"y":658},{"s":"R1","p":"D","x":3437744,"y":655},{"s":"R1","p":"D","x":3438048,"y":650},{"s":"R1","p":"D","x":3438455,"y":648},{"s":"R1","p":"D","x":3438749,"y":647},{"s":"R1","p":"D","x":3438775,"y":667},{"s":"R1","p":"D","x":3438800,"y":679},{"s":"R1","p":"D","x":3438962,"y":678},{"s":"R1","p":"D","x":3439216,"y":673},{"s":"R1","p":"D","x":3439623,"y":673},{"s":"R1","p":"D","x":3439998,"y":678},
{"s":"R2","p":"D","x":3435002,"y":675},{"s":"R2","p":"D","x":3435205,"y":674},{"s":"R2","p":"D","x":3435408,"y":673},{"s":"R2","p":"D","x":3435916,"y":672},{"s":"R2","p":"D","x":3436271,"y":671},{"s":"R2","p":"D","x":3436423,"y":674},{"s":"R2","p":"D","x":3436576,"y":669},{"s":"R2","p":"D","x":3436718,"y":668},{"s":"R2","p":"D","x":3436743,"y":682},{"s":"R2","p":"D","x":3436779,"y":692},{"s":"R2","p":"D","x":3436809,"y":692},{"s":"R2","p":"D","x":3436840,"y":680},{"s":"R2","p":"D","x":3436931,"y":671},{"s":"R2","p":"D","x":3437236,"y":669},{"s":"R2","p":"D","x":3437464,"y":665},{"s":"R2","p":"D","x":3437485,"y":677},{"s":"R2","p":"D","x":3437510,"y":688},{"s":"R2","p":"D","x":3437622,"y":689},{"s":"R2","p":"D","x":3437647,"y":660},{"s":"R2","p":"D","x":3437744,"y":657},{"s":"R2","p":"D","x":3438048,"y":653},{"s":"R2","p":"D","x":3438455,"y":651},{"s":"R2","p":"D","x":3438749,"y":650},{"s":"R2","p":"D","x":3438775,"y":670},{"s":"R2","p":"D","x":3438800,"y":682},{"s":"R2","p":"D","x":3438962,"y":680},{"s":"R2","p":"D","x":3439216,"y":675},{"s":"R2","p":"D","x":3439623,"y":676},{"s":"R2","p":"D","x":3439998,"y":679},
{"s":"K1","p":"D","x":3435002,"y":665},{"s":"K1","p":"D","x":3435205,"y":664},{"s":"K1","p":"D","x":3435408,"y":663},{"s":"K1","p":"D","x":3435916,"y":662},{"s":"K1","p":"D","x":3436271,"y":662},{"s":"K1","p":"D","x":3436423,"y":663},{"s":"K1","p":"D","x":3436576,"y":661},{"s":"K1","p":"D","x":3436718,"y":661},{"s":"K1","p":"D","x":3436743,"y":675},{"s":"K1","p":"D","x":3436779,"y":684},{"s":"K1","p":"D","x":3436809,"y":684},{"s":"K1","p":"D","x":3436840,"y":664},{"s":"K1","p":"D","x":3436931,"y":662},{"s":"K1","p":"D","x":3437236,"y":660},{"s":"K1","p":"D","x":3437464,"y":657},{"s":"K1","p":"D","x":3437485,"y":670},{"s":"K1","p":"D","x":3437510,"y":682},{"s":"K1","p":"D","x":3437622,"y":682},{"s":"K1","p":"D","x":3437647,"y":650},{"s":"K1","p":"D","x":3437744,"y":646},{"s":"K1","p":"D","x":3438048,"y":641},{"s":"K1","p":"D","x":3438455,"y":640},{"s":"K1","p":"D","x":3438749,"y":640},{"s":"K1","p":"D","x":3438775,"y":660},{"s":"K1","p":"D","x":3438800,"y":663},{"s":"K1","p":"D","x":3438962,"y":664},{"s":"K1","p":"D","x":3439216,"y":661},{"s":"K1","p":"D","x":3439623,"y":660},{"s":"K1","p":"D","x":3439998,"y":661},
{"s":"K2","p":"D","x":3435002,"y":666},{"s":"K2","p":"D","x":3435205,"y":666},{"s":"K2","p":"D","x":3435408,"y":665},{"s":"K2","p":"D","x":3435916,"y":665},{"s":"K2","p":"D","x":3436271,"y":664},{"s":"K2","p":"D","x":3436423,"y":665},{"s":"K2","p":"D","x":3436576,"y":663},{"s":"K2","p":"D","x":3436718,"y":663},{"s":"K2","p":"D","x":3436743,"y":676},{"s":"K2","p":"D","x":3436779,"y":685},{"s":"K2","p":"D","x":3436809,"y":685},{"s":"K2","p":"D","x":3436840,"y":666},{"s":"K2","p":"D","x":3436931,"y":664},{"s":"K2","p":"D","x":3437236,"y":662},{"s":"K2","p":"D","x":3437464,"y":660},{"s":"K2","p":"D","x":3437485,"y":672},{"s":"K2","p":"D","x":3437510,"y":683},{"s":"K2","p":"D","x":3437622,"y":683},{"s":"K2","p":"D","x":3437647,"y":652},{"s":"K2","p":"D","x":3437744,"y":648},{"s":"K2","p":"D","x":3438048,"y":644},{"s":"K2","p":"D","x":3438455,"y":643},{"s":"K2","p":"D","x":3438749,"y":642},{"s":"K2","p":"D","x":3438775,"y":662},{"s":"K2","p":"D","x":3438800,"y":667},{"s":"K2","p":"D","x":3438962,"y":667},{"s":"K2","p":"D","x":3439216,"y":664},{"s":"K2","p":"D","x":3439623,"y":663},{"s":"K2","p":"D","x":3439998,"y":664},
{"s":"K3","p":"D","x":3435002,"y":667},{"s":"K3","p":"D","x":3435205,"y":667},{"s":"K3","p":"D","x":3435408,"y":667},{"s":"K3","p":"D","x":3435916,"y":666},{"s":"K3","p":"D","x":3436271,"y":666},{"s":"K3","p":"D","x":3436423,"y":667},{"s":"K3","p":"D","x":3436576,"y":665},{"s":"K3","p":"D","x":3436718,"y":665},{"s":"K3","p":"D","x":3436743,"y":678},{"s":"K3","p":"D","x":3436779,"y":686},{"s":"K3","p":"D","x":3436809,"y":683},{"s":"K3","p":"D","x":3436840,"y":663},{"s":"K3","p":"D","x":3436931,"y":665},{"s":"K3","p":"D","x":3437236,"y":664},{"s":"K3","p":"D","x":3437464,"y":662},{"s":"K3","p":"D","x":3437485,"y":674},{"s":"K3","p":"D","x":3437510,"y":684},{"s":"K3","p":"D","x":3437622,"y":684},{"s":"K3","p":"D","x":3437647,"y":654},{"s":"K3","p":"D","x":3437744,"y":650},{"s":"K3","p":"D","x":3438048,"y":647},{"s":"K3","p":"D","x":3438455,"y":646},{"s":"K3","p":"D","x":3438749,"y":645},{"s":"K3","p":"D","x":3438775,"y":663},{"s":"K3","p":"D","x":3438800,"y":668},{"s":"K3","p":"D","x":3438962,"y":668},{"s":"K3","p":"D","x":3439216,"y":667},{"s":"K3","p":"D","x":3439623,"y":666},{"s":"K3","p":"D","x":3439998,"y":667}
]
},
"encoding":{
"x":{"field":"x","type":"quantitative","scale":{"domain":[3434900,3440100],"nice":false,"zero":false},"axis":null},
"y":{"field":"y","type":"quantitative","scale":{"domain":[0,714],"range":[0.5,714.5],"nice":false,"zero":false},"axis":null}
},
"layer":[
{"data":{"name":"blackArrows"},"mark":{"type":"area","color":"#000000","interpolate":"linear"},"encoding":{"y2":{"field":"y2"},"detail":{"field":"id"}}},
{"data":{"name":"whiteArrows"},"mark":{"type":"area","fill":"#ffffff","stroke":"#000000","strokeWidth":1,"interpolate":"linear"},"encoding":{"y2":{"field":"y2"},"detail":{"field":"id"}}},
{"data":{"name":"blackV"},"mark":{"type":"rule","color":"#000000","strokeWidth":1},"encoding":{"y2":{"field":"y2"}}},
{"data":{"name":"blackH"},"mark":{"type":"rule","color":"#000000","strokeWidth":1},"encoding":{"x2":{"field":"x2"}}},
{"data":{"name":"geneBoxes"},"mark":{"type":"rect","fill":"#ffffff","stroke":"#ff0000","strokeWidth":1},"encoding":{"x2":{"field":"x2"},"y2":{"field":"y2"}}},
{"data":{"name":"redV"},"mark":{"type":"rule","color":"#ff0000","strokeWidth":1},"encoding":{"y2":{"field":"y2"}}},
{"data":{"name":"smallSquares"},"mark":{"type":"rect","fill":"#ffffff","stroke":"#ff0000","strokeWidth":1},"encoding":{"x2":{"field":"x2"},"y2":{"field":"y2"}}},
{"data":{"name":"redBoxes"},"mark":{"type":"rect","color":"#ff0000"},"encoding":{"x2":{"field":"x2"},"y2":{"field":"y2"}}},
{"data":{"name":"redShapes"},"mark":{"type":"area","color":"#ff0000","interpolate":"linear"},"encoding":{"y2":{"field":"y2"},"detail":{"field":"id"}}},
{"data":{"name":"redH"},"mark":{"type":"rule","color":"#ff0000","strokeWidth":1},"encoding":{"x2":{"field":"x2"}}},
{"data":{"name":"greenH"},"mark":{"type":"rule","color":"#00ff00","strokeWidth":1},"encoding":{"x2":{"field":"x2"}}},
{"data":{"name":"lines"},"mark":{"type":"line","strokeWidth":1,"interpolate":"linear"},"encoding":{
"color":{"field":"s","type":"nominal","legend":null,"scale":{"domain":["S01","S02","S03","S04","S05","S06","S07","S08","S09","S10","S11","S12","S13","S14","S15","R1","R2","K1","K2","K3"],"range":["#ff0000","#0000ff","#00ff00","#ff00ff","#00ffff","#ff9900","#ccff00","#9900ff","#999999","#996633","#0080ff","#ff66cc","#00cc00","#000000","#ff0000","#ff0000","#ff0000","#000000","#000000","#000000"]}},
"detail":{"field":"p"}}},
{"data":{"name":"refs"},"mark":{"type":"rule","color":"#000000","strokeWidth":1},"encoding":{"x2":{"field":"x2"}}},
{"data":{"name":"labelsLeft"},"mark":{"type":"text","align":"left"},"encoding":{"text":{"field":"t"}}},
{"data":{"name":"labelsCenter"},"mark":{"type":"text","align":"center"},"encoding":{"text":{"field":"t"}}},
{"data":{"name":"labelsRight"},"mark":{"type":"text","align":"right"},"encoding":{"text":{"field":"t"}}}
]
}
